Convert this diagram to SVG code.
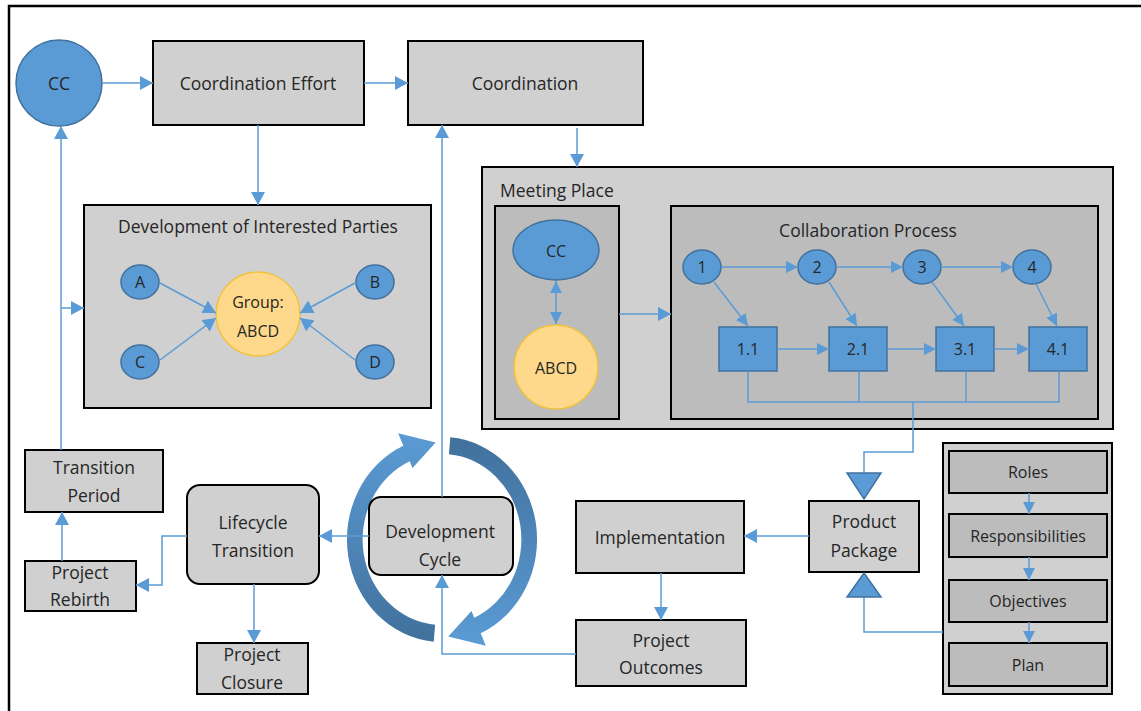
<svg xmlns="http://www.w3.org/2000/svg" width="1141" height="711" viewBox="0 0 1141 711">
  <defs>
    <style>
      .box { fill: #d0d0d0; stroke: #000; stroke-width: 2; }
      .dark { fill: #bcbcbc; stroke: #000; stroke-width: 2; }
      .blue { fill: #5b9bd5; stroke: #41719c; stroke-width: 1.5; }
      .gold { fill: #ffd98b; stroke: #f2c23c; stroke-width: 1.5; }
      .conn { fill: none; stroke: #5b9bd5; stroke-width: 1.5; }
      .arr { marker-end: url(#ah); }
      .arrs { marker-end: url(#ahs); }
      text { font-family: "Open Sans", "Liberation Sans", sans-serif; font-size: 17.5px; fill: #262626; text-anchor: middle; }
      .sm { font-size: 16px; }
    </style>
    <marker id="ah" viewBox="0 0 13 14" refX="13" refY="7" markerWidth="13" markerHeight="14" markerUnits="userSpaceOnUse" orient="auto">
      <path d="M0,0 L13,7 L0,14 z" fill="#5b9bd5"/>
    </marker>
    <marker id="ahs" viewBox="0 0 12 12" refX="12" refY="6" markerWidth="12" markerHeight="12" markerUnits="userSpaceOnUse" orient="auto-start-reverse">
      <path d="M0,0 L12,6 L0,12 z" fill="#5b9bd5"/>
    </marker>
    <linearGradient id="gLeft" x1="0" y1="0" x2="0" y2="1">
      <stop offset="0" stop-color="#5b9bd5"/>
      <stop offset="1" stop-color="#41719c"/>
    </linearGradient>
    <linearGradient id="gRight" x1="0" y1="0" x2="0" y2="1">
      <stop offset="0" stop-color="#41719c"/>
      <stop offset="1" stop-color="#5b9bd5"/>
    </linearGradient>
  </defs>

  <rect width="1141" height="711" fill="#fff"/>
  <!-- outer frame -->
  <path d="M9,711 V6 H1141" fill="none" stroke="#000" stroke-width="2.5"/>

  <!-- cycle arrows around the development cycle -->
  <g id="cycle-arrows" transform="translate(442,539.5) scale(0.98,1.057)">
    <path fill="url(#gLeft)" d="M-8.45,96.63 A97,97 0 0 1 -39.45,-88.61 L-44.74,-100.49 L-6.42,-91.78 L-30.10,-67.60 L-32.94,-74 A81,81 0 0 0 -7.06,80.69 Z"/>
    <path fill="url(#gRight)" d="M8.45,-96.63 A97,97 0 0 1 39.45,88.61 L44.74,100.49 L6.42,91.78 L30.10,67.60 L32.94,74 A81,81 0 0 0 7.06,-80.69 Z"/>
  </g>

  <g id="cc">
    <circle class="blue" cx="59" cy="83" r="43"/>
    <text x="59" y="90">CC</text>
  </g>
  <g id="coordination-effort">
    <rect class="box" x="153" y="41" width="211" height="84"/>
    <text x="258" y="90">Coordination Effort</text>
  </g>
  <g id="coordination">
    <rect class="box" x="408" y="41" width="235" height="84"/>
    <text x="525" y="90">Coordination</text>
  </g>

  <g id="interested-parties">
    <rect class="box" x="84" y="205" width="347" height="203"/>
    <text x="258" y="233">Development of Interested Parties</text>
    <ellipse class="blue" cx="140" cy="282" rx="19" ry="17"/>
    <text class="sm" x="140" y="288">A</text>
    <ellipse class="blue" cx="375" cy="282" rx="19" ry="17"/>
    <text class="sm" x="375" y="288">B</text>
    <ellipse class="blue" cx="140" cy="362" rx="19" ry="17"/>
    <text class="sm" x="140" y="368">C</text>
    <ellipse class="blue" cx="375" cy="362" rx="19" ry="17"/>
    <text class="sm" x="375" y="368">D</text>
    <circle class="gold" cx="258" cy="314" r="42"/>
    <text class="sm" x="258" y="308">Group:</text>
    <text class="sm" x="258" y="337">ABCD</text>
  </g>

  <g id="meeting-place">
    <rect class="box" x="482" y="167" width="631" height="262"/>
    <text x="500" y="197" style="text-anchor:start">Meeting Place</text>
    <rect class="dark" x="495" y="206" width="124" height="213"/>
    <ellipse class="blue" cx="556" cy="250" rx="43" ry="30"/>
    <text class="sm" x="556" y="257">CC</text>
    <circle class="gold" cx="556" cy="367" r="42"/>
    <text class="sm" x="556" y="374">ABCD</text>
  </g>

  <g id="collaboration-process">
    <rect class="dark" x="671" y="206" width="427" height="213"/>
    <text x="868" y="237">Collaboration Process</text>
    <ellipse class="blue" cx="702" cy="267" rx="19" ry="17"/>
    <text class="sm" x="702" y="273">1</text>
    <ellipse class="blue" cx="817" cy="267" rx="19" ry="17"/>
    <text class="sm" x="817" y="273">2</text>
    <ellipse class="blue" cx="922" cy="267" rx="19" ry="17"/>
    <text class="sm" x="922" y="273">3</text>
    <ellipse class="blue" cx="1032" cy="267" rx="19" ry="17"/>
    <text class="sm" x="1032" y="273">4</text>
    <rect class="blue" x="719" y="327" width="58" height="44"/>
    <text class="sm" x="748" y="355">1.1</text>
    <rect class="blue" x="829" y="327" width="58" height="44"/>
    <text class="sm" x="858" y="355">2.1</text>
    <rect class="blue" x="936" y="327" width="58" height="44"/>
    <text class="sm" x="965" y="355">3.1</text>
    <rect class="blue" x="1029" y="327" width="58" height="44"/>
    <text class="sm" x="1058" y="355">4.1</text>
  </g>

  <g id="transition-period">
    <rect class="box" x="25" y="450" width="138" height="62"/>
    <text x="94" y="474">Transition</text>
    <text x="94" y="502">Period</text>
  </g>
  <g id="project-rebirth">
    <rect class="box" x="25" y="561" width="111" height="50"/>
    <text x="80" y="579">Project</text>
    <text x="80" y="606">Rebirth</text>
  </g>
  <g id="lifecycle-transition">
    <rect class="box" x="187" y="485" width="132" height="99" rx="13"/>
    <text x="253" y="529">Lifecycle</text>
    <text x="253" y="557">Transition</text>
  </g>
  <g id="project-closure">
    <rect class="box" x="197" y="643" width="111" height="51"/>
    <text x="252" y="661">Project</text>
    <text x="252" y="689">Closure</text>
  </g>
  <g id="development-cycle">
    <rect class="box" x="369" y="497" width="144" height="78" rx="12"/>
    <text x="440" y="538">Development</text>
    <text x="440" y="566">Cycle</text>
  </g>
  <g id="implementation">
    <rect class="box" x="576" y="501" width="168" height="72"/>
    <text x="660" y="544">Implementation</text>
  </g>
  <g id="project-outcomes">
    <rect class="box" x="576" y="620" width="170" height="66"/>
    <text x="661" y="647">Project</text>
    <text x="661" y="674">Outcomes</text>
  </g>
  <g id="product-package">
    <rect class="box" x="809" y="501" width="110" height="71"/>
    <text x="864" y="528">Product</text>
    <text x="864" y="557">Package</text>
  </g>

  <g id="plan-stack">
    <rect class="box" x="943" y="443" width="169" height="251"/>
  </g>
  <g id="roles">
    <rect class="dark" x="949" y="451" width="158" height="42"/>
    <text class="sm" x="1028" y="478">Roles</text>
  </g>
  <g id="responsibilities">
    <rect class="dark" x="949" y="514" width="158" height="43"/>
    <text class="sm" x="1028" y="542">Responsibilities</text>
  </g>
  <g id="objectives">
    <rect class="dark" x="949" y="580" width="158" height="42"/>
    <text class="sm" x="1028" y="607">Objectives</text>
  </g>
  <g id="plan">
    <rect class="dark" x="949" y="643" width="158" height="43"/>
    <text class="sm" x="1028" y="671">Plan</text>
  </g>

  <!-- connectors, drawn over the containers they run through -->
  <g id="connectors">
    <path class="conn arr" d="M102,83 H153"/>
    <path class="conn arr" d="M364,83 H408"/>
    <path class="conn arr" d="M258,125 V205"/>
    <path class="conn arr" d="M577,128 V167"/>
    <path class="conn arr" d="M61,450 V126"/>
    <path class="conn arr" d="M61,308 H84"/>
    <path class="conn arr" d="M62,561 V512"/>
    <path class="conn arr" d="M187,536 H162 V585 H136"/>
    <path class="conn arr" d="M254,584 V643"/>
    <path class="conn arr" d="M369,536 H319"/>
    <path class="conn arr" d="M442,497 V125"/>
    <path class="conn arr" d="M576,654 H442 V575"/>
    <path class="conn arr" d="M809,536 H744"/>
    <path class="conn arr" d="M661,573 V620"/>
    <path class="conn arr" d="M619,314 H671"/>
    <path class="conn" style="marker-start:url(#ahs);marker-end:url(#ahs)" d="M556,281 V324"/>
    <!-- interested parties into the group -->
    <path class="conn arr" d="M160,283 L216,313"/>
    <path class="conn arr" d="M160,360 L216,318"/>
    <path class="conn arr" d="M355,283 L300,313"/>
    <path class="conn arr" d="M355,360 L300,318"/>
    <!-- collaboration steps -->
    <path class="conn arrs" d="M721,267 H798"/>
    <path class="conn arrs" d="M836,267 H903"/>
    <path class="conn arrs" d="M941,267 H1013"/>
    <path class="conn arrs" d="M714,282 L748,326"/>
    <path class="conn arrs" d="M829,282 L857,326"/>
    <path class="conn arrs" d="M932,282 L964,326"/>
    <path class="conn arrs" d="M1036,284 L1057,326"/>
    <path class="conn arrs" d="M777,349 H829"/>
    <path class="conn arrs" d="M887,349 H936"/>
    <path class="conn arrs" d="M994,349 H1029"/>
    <path class="conn" d="M748,371 V402 H1059 V371 M859,371 V402 M966,371 V402 M913,402 V452 H864 V473"/>
    <path class="conn" d="M943,632 H864 V597"/>
    <path class="conn arrs" d="M1029,493 V514"/>
    <path class="conn arrs" d="M1029,557 V580"/>
    <path class="conn arrs" d="M1029,622 V643"/>
    <path class="blue" d="M847,473 H881 L864,499 Z"/>
    <path class="blue" d="M864,573 L881,597 H847 Z"/>
  </g>
</svg>
